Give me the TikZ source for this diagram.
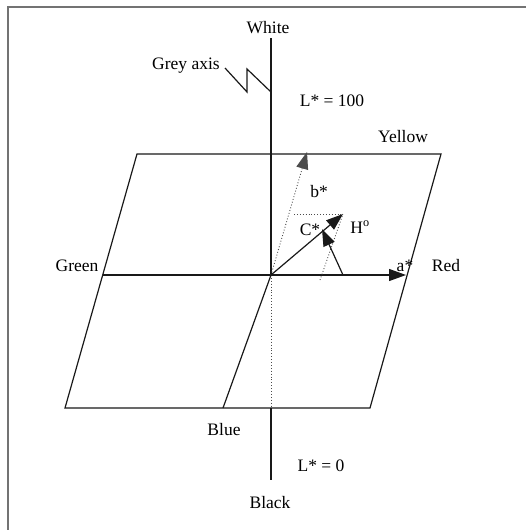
\documentclass[tikz,border=0pt]{standalone}
\usepackage{fontspec}
\setmainfont{Liberation Serif}
\usetikzlibrary{arrows.meta}
\begin{document}
\begin{tikzpicture}[x=1pt,y=-1pt,
  lbl/.style={font=\fontsize{17.5}{20}\selectfont,inner sep=0pt,text=black},
  ln/.style={line width=1.2pt,black!90},
  dt/.style={line width=0.9pt,black!70,dotted},
  arr/.style={-{Triangle[length=17pt,width=12pt]}}]
\useasboundingbox (0,0) rectangle (526,530);
\draw[line width=2pt,black!55] (8,530) -- (8,7) -- (526,7);
% coordinates
\coordinate (top) at (271,38);
\coordinate (O) at (271,275);
\coordinate (pb) at (271,408);
\coordinate (bot) at (271,480);
\coordinate (TL) at (137,154);
\coordinate (TR) at (441,154);
\coordinate (BR) at (370,408);
\coordinate (BL) at (65,408);
\coordinate (gl) at (102.7,275);
\coordinate (ar) at (406,275);
\coordinate (bl) at (223,408);
\coordinate (bs) at (307,152);
\coordinate (ct) at (343,214);
\coordinate (hl) at (294,214);
\coordinate (dp) at (320,280);
\coordinate (ap) at (343,275);
\coordinate (ht) at (322,229);
\coordinate (z1) at (225,68);
\coordinate (z2) at (247,92);
\coordinate (z3) at (247,69);
\coordinate (z4) at (271,92);
% plane
\draw[ln] (TL) -- (TR) -- (BR) -- (BL) -- cycle;
% grey axis
\draw[ln] (top) -- (O);
\draw[dt] (O) -- (pb);
\draw[ln] (pb) -- (bot);
\draw[ln] (z1) -- (z2) -- (z3) -- (z4);
% axes in plane
\draw[ln,arr] (gl) -- (ar);
\draw[ln] (O) -- (bl);
\draw[dt,arr] (O) -- (bs);
\draw[dt] (hl) -- (ct);
\draw[dt] (dp) -- (ct);
\draw[ln,arr] (O) -- (ct);
\draw[ln,arr] (ap) -- (ht);
% labels
\node[lbl] (white) at (268,28) {White};
\node[lbl] (grey) at (186,66) {Grey axis};
\node[lbl] (l100) at (332,101) {L* = 100};
\node[lbl] (yellow) at (403,137) {Yellow};
\node[lbl] (bstar) at (319,192) {b*};
\node[lbl] (cstar) at (310,230) {C*};
\node[lbl] (hdeg) at (360,227) {H$^{\mathrm{o}}$};
\node[lbl] (green) at (77,266) {Green};
\node[lbl] (astar) at (405,266) {a*};
\node[lbl] (red) at (446,266) {Red};
\node[lbl] (blue) at (224,430) {Blue};
\node[lbl] (l0) at (321,466) {L* = 0};
\node[lbl] (black) at (270,503) {Black};
\end{tikzpicture}
\end{document}
